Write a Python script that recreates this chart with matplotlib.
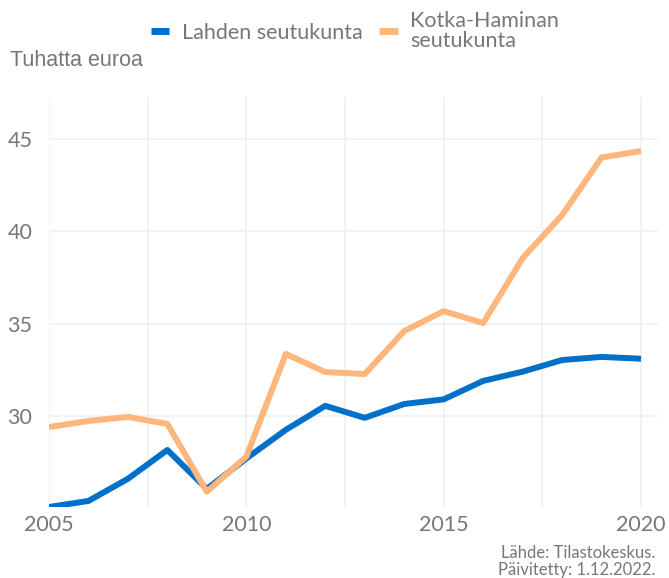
import numpy as np
import matplotlib
matplotlib.use("Agg")
import matplotlib.pyplot as plt
from matplotlib.ticker import MultipleLocator

years = np.arange(2005, 2021)
lahti = [25.07, 25.4, 26.6, 28.16, 26.05, 27.7, 29.25, 30.55, 29.9, 30.65,
         30.9, 31.9, 32.4, 33.03, 33.2, 33.1]
kotka = [29.4, 29.73, 29.95, 29.57, 25.9, 27.8, 33.36, 32.38, 32.27, 34.6,
         35.68, 35.03, 38.55, 40.88, 44.0, 44.35]
series_names = ["Lahden seutukunta", "Kotka-Haminan\nseutukunta"]
y_ticks = [30, 35, 40, 45]
x_ticks = [2005, 2010, 2015, 2020]

blue = "#0070C9"
orange = "#FDB67B"
grey = "#777777"

plt.rcParams["font.family"] = ["Lato", "DejaVu Sans"]

fig = plt.figure(figsize=(6.69, 5.78), dpi=100)
ax = fig.add_axes([0.0732, 0.1228, 0.9104, 0.7092])

# orange sits on top of blue where they cross
ax.plot(years, lahti, color=blue, lw=4.3, solid_capstyle="butt", zorder=2,
        label=series_names[0])
ax.plot(years, kotka, color=orange, lw=4.3, solid_capstyle="butt", zorder=3,
        label=series_names[1])

ax.set_xlim(2005, 2020.43)
ax.set_ylim(25.07, 47.27)
ax.set_yticks(y_ticks)
ax.set_xticks(x_ticks)
ax.xaxis.set_minor_locator(MultipleLocator(2.5))
ax.grid(True, which="both", axis="x", color="#F0F0F0", lw=1.2)
ax.grid(True, which="major", axis="y", color="#F0F0F0", lw=1.2)
ax.set_axisbelow(True)
for s in ax.spines.values():
    s.set_visible(False)
ax.tick_params(which="both", length=0, labelsize=15.5, labelcolor=grey)
ax.tick_params(axis="y", pad=12)
ax.tick_params(axis="x", pad=6)

fig.text(10 / 669, 1 - 60 / 578, "Tuhatta euroa", fontsize=15.5, color=grey,
         family=["Liberation Sans", "DejaVu Sans"], va="center", ha="left")

leg = fig.legend(loc="center", bbox_to_anchor=(0.531, 1 - 31 / 578), ncol=2,
                 frameon=False, fontsize=15.5, handlelength=0.85,
                 handletextpad=0.6, columnspacing=0.75)
for t in leg.get_texts():
    t.set_color(grey)
    t.set_linespacing(0.95)
for h in leg.get_lines():
    h.set_linewidth(5)

fig.text(655 / 669, 1 - 553 / 578, "Lähde: Tilastokeskus.", fontsize=12,
         color=grey, ha="right", va="center")
fig.text(655 / 669, 1 - 570 / 578, "Päivitetty: 1.12.2022.", fontsize=12,
         color=grey, ha="right", va="center")

fig.savefig("out.png", dpi=100)
